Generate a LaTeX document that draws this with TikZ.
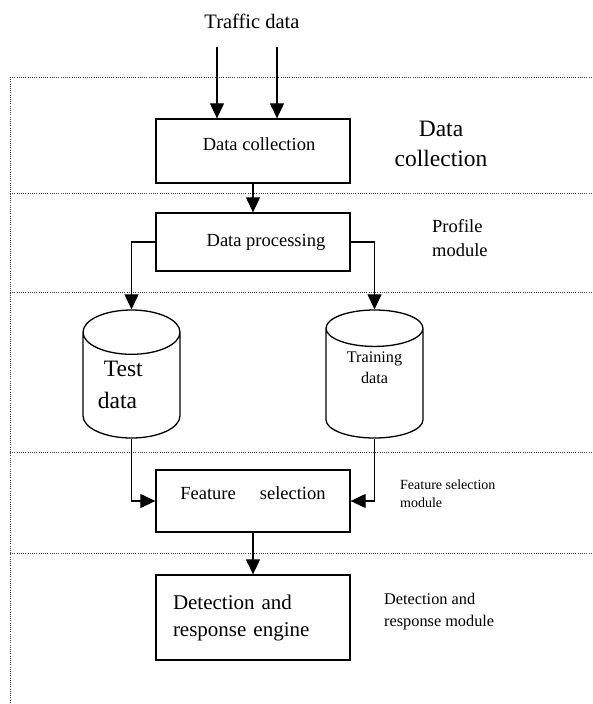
\documentclass[tikz,border=0pt]{standalone}
\usepackage{fontspec}
\setmainfont{Liberation Serif}
\usetikzlibrary{shapes.geometric,arrows.meta}

\tikzset{
  box/.style={draw, line width=1.3pt, minimum width=194pt, inner sep=0pt},
  db/.style={draw, line width=1.3pt, cylinder, shape border rotate=90, aspect=0.66,
    minimum width=97pt, minimum height=128pt, inner sep=0pt, anchor=shape center},
  arr/.style={line width=1.1pt, -{Triangle[length=15pt,width=14pt]}},
  sep/.style={line width=0.9pt, dash pattern=on 0.9pt off 1.3pt, black!75}
}

\begin{document}
\begin{tikzpicture}[x=1pt,y=-1pt]
\useasboundingbox (0,0) rectangle (593,704);
\draw[sep] (10,77) -- (593,77);
\draw[sep] (10,193) -- (593,193);
\draw[sep] (10,292) -- (593,292);
\draw[sep] (10,452) -- (593,452);
\draw[sep] (10,553) -- (593,553);
\draw[sep] (10,77) -- (10,703);
\node[font=\fontsize{20.5}{24}\selectfont] (traffic) at (252,21) {Traffic data};
\coordinate (in1) at (217,47);
\coordinate (in2) at (277,47);
\node[box, minimum height=64pt, text height=13pt, text depth=15pt, font=\fontsize{18.5}{22}\selectfont] (collect) at (253,151) {\hspace*{12pt}Data collection};
\node[box, minimum height=58pt, font=\fontsize{18.5}{22}\selectfont] (process) at (253,242) {\hspace*{26pt}Data processing};
\node[db, align=left, font=\fontsize{23.5}{32}\selectfont] (testdb) at (131.5,374) {\hspace*{6pt}Test\\data\hspace*{28pt}};
\node[db, align=center, font=\fontsize{16.2}{21}\selectfont] (traindb) at (374.5,374) {Training\\data\\[10pt]};
\node[box, minimum height=62pt, text depth=16pt, font=\fontsize{18.5}{22}\selectfont] (feature) at (253,501) {Feature\hspace{24pt}selection};
\node[box, minimum height=85pt, align=left, text width=160pt, inner xsep=17pt, font=\fontsize{21}{27}\selectfont] (detect) at (253,617.5) {Detection and\\response engine};
\node[align=center, font=\fontsize{23.5}{30}\selectfont] (lcollect) at (441,144) {Data\\collection};
\node[align=left, anchor=west, inner sep=0pt, font=\fontsize{18.5}{24}\selectfont] (lprofile) at (432,238) {Profile\\module};
\node[align=left, anchor=west, inner sep=0pt, font=\fontsize{14}{18}\selectfont] (lfeature) at (400,494) {Feature selection\\module};
\node[align=left, anchor=west, inner sep=0pt, font=\fontsize{16.3}{22}\selectfont] (ldetect) at (384,612) {Detection and\\response module};
\draw[arr] (in1) -- (in1 |- collect.north);
\draw[arr] (in2) -- (in2 |- collect.north);
\draw[arr] (collect) -- (process);
\draw[arr] (process.west) -| (testdb.north);
\draw[arr] (process.east) -| (traindb.north);
\draw[arr] (testdb.south) |- (feature.west);
\draw[arr] (traindb.south) |- (feature.east);
\draw[arr] (feature) -- (detect);
\end{tikzpicture}
\end{document}
